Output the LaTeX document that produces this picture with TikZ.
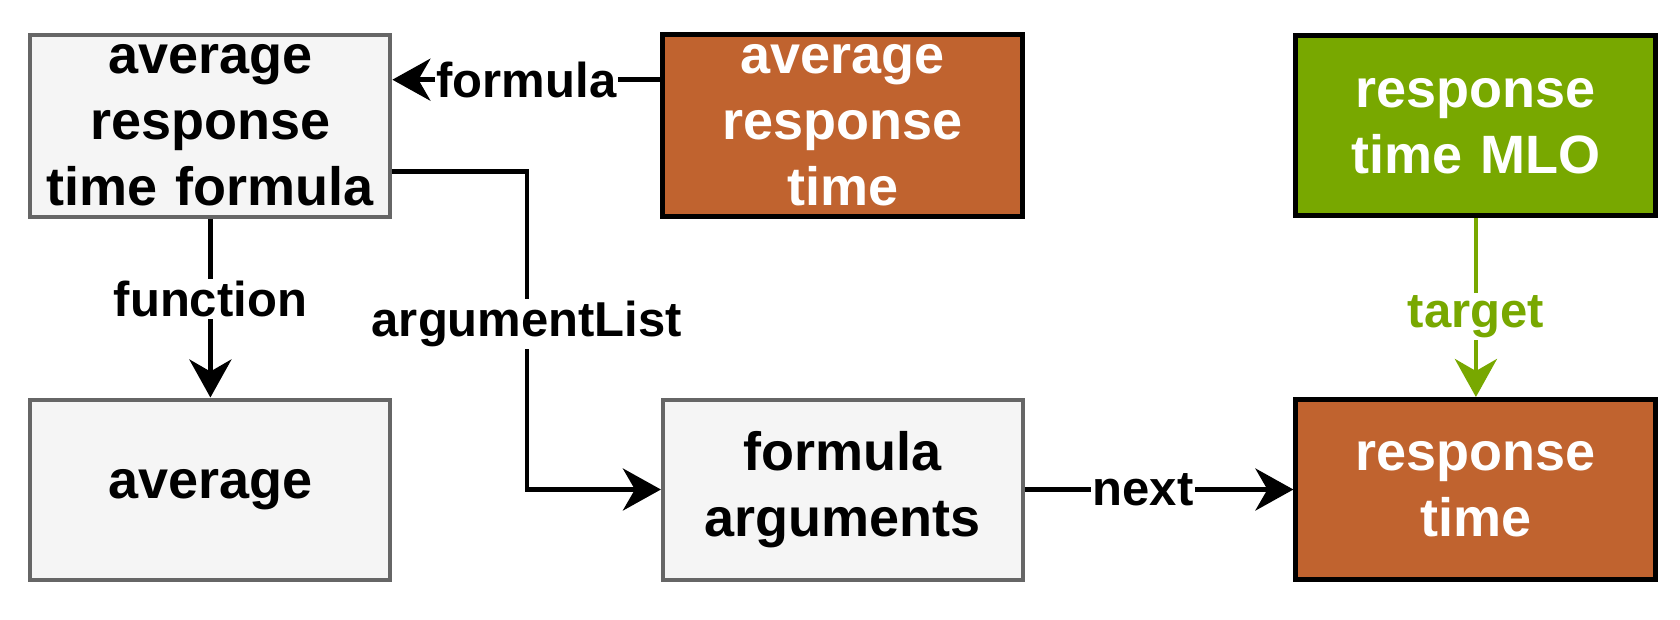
\documentclass[tikz,border=0pt]{standalone}
\usepackage{fontspec}
\setmainfont{Liberation Sans}
\usetikzlibrary{arrows.meta}
\usetikzlibrary{matrix}
\hyphenpenalty=10000
\definecolor{boxgrey}{HTML}{F5F5F5}
\definecolor{edgegrey}{HTML}{666666}
\definecolor{rust}{HTML}{C0632F}
\definecolor{mlogreen}{HTML}{78A800}
\tikzstyle{relhead}=[>/.tip={Stealth[length=19pt,width=21pt,inset=6pt]}]
\tikzstyle{rel}=[line width=2.4pt,relhead,->]
\tikzstyle{box}=[draw,line width=2pt,inner sep=5pt,minimum width=180pt,minimum height=90pt,text width=170pt,align=center,font=\fontsize{27}{33}\selectfont\bfseries]
\tikzstyle{plain}=[box,fill=boxgrey,draw=edgegrey]
\tikzstyle{inst}=[box,line width=2.5pt,fill=rust,draw=black,text=white]
\tikzstyle{mlo}=[box,line width=2.5pt,fill=mlogreen,draw=black,text=white]
\tikzstyle{lbl}=[fill=white,inner sep=1pt,font=\fontsize{24.5}{28}\selectfont\bfseries]

\begin{document}
\begin{tikzpicture}
	\useasboundingbox (0,0) rectangle (840pt,-310pt);
	\matrix (m) [matrix of nodes,nodes={anchor=center},column sep=134pt,row sep=89pt,anchor=north west,inner sep=0pt] at (14pt,-16pt) {
	  |[plain]| average response time formula & |[inst]| average response time & |[mlo]| response time MLO \\
	  |[plain]| average & |[plain]| formula arguments & |[inst]| response time \\
	};
	\draw[rel] ([yshift=23pt]m-1-2.west) --node[lbl]{formula} ([yshift=23pt]m-1-1.east);
	\draw[rel] (m-1-1) --node[lbl,pos=.45]{function} (m-2-1);
	\draw[rel] ([yshift=-23pt]m-1-1.east) -|node[lbl,pos=.74]{argumentList} ([xshift=-67pt]m-2-2.west) -- (m-2-2.west);
	\draw[rel] (m-2-2) --node[lbl,pos=.44]{next} (m-2-3);
	\draw[rel,draw=mlogreen] (m-1-3) --node[lbl,text=mlogreen,pos=.55]{target} (m-2-3);
\end{tikzpicture}
\end{document}
